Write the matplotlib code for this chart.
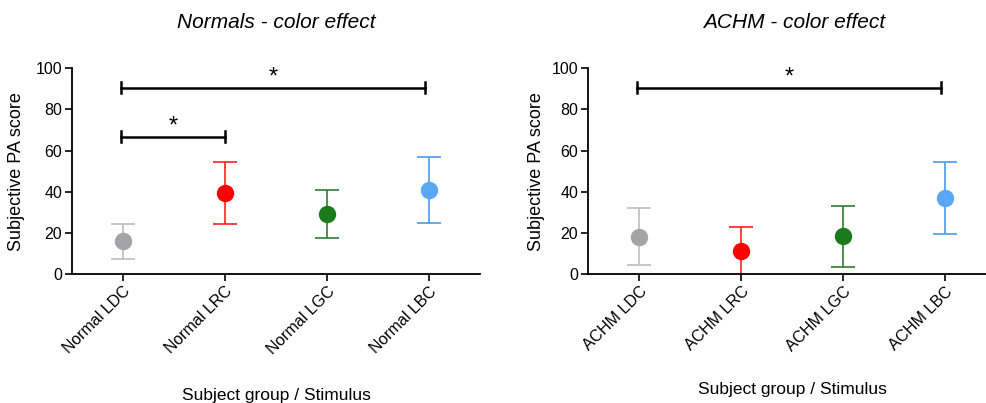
import matplotlib
matplotlib.use("Agg")
import matplotlib.pyplot as plt
from matplotlib.transforms import ScaledTranslation

plt.rcParams['font.family'] = ['Liberation Sans', 'DejaVu Sans']

# ---- data ----
normal_labels = ["Normal LDC", "Normal LRC", "Normal LGC", "Normal LBC"]
normal_means = [16.0, 39.3, 29.0, 41.0]
normal_err = [8.5, 15.0, 11.6, 16.0]

achm_labels = ["ACHM LDC", "ACHM LRC", "ACHM LGC", "ACHM LBC"]
achm_means = [18.1, 11.0, 18.3, 36.8]
achm_err = [13.8, 11.8, 15.0, 17.5]

marker_colors = ["#a3a3a8", "#ff0000", "#1b7a1b", "#5aa8f5"]
bar_colors = ["#bdbdbd", "#ff2020", "#2f7d2f", "#4a9ae8"]

# significance brackets: (start index, end index, height)
normal_sig = [(0, 3, 90.6), (0, 1, 66.8)]
achm_sig = [(0, 3, 90.6)]

titles = ["Normals - color effect", "ACHM - color effect"]
yticks = [0, 20, 40, 60, 80, 100]

fig = plt.figure(figsize=(9.87, 4.03), dpi=100)
ax1 = fig.add_axes([72 / 987, 1 - 274 / 403, 408 / 987, 205.7 / 403])
ax2 = fig.add_axes([588 / 987, 1 - 274 / 403, 408 / 987, 205.7 / 403])


def draw(ax, labels, means, errs, sig, title, xlab_y, ylab_x):
    for i, (m, e) in enumerate(zip(means, errs)):
        ax.errorbar(i, m, yerr=e, fmt='none', ecolor=bar_colors[i],
                    elinewidth=1.2, capsize=8.5, capthick=1.2, zorder=2)
        ax.plot(i, m, 'o', color=marker_colors[i], markersize=11.5, zorder=3)
    for a, b, h in sig:
        x0, x1 = a - 0.02, b - 0.04 if b - a > 1 else b
        ax.plot([x0, x1], [h, h], color='black', lw=1.8, zorder=4, clip_on=False)
        ax.plot([x0, x0], [h - 2.6, h + 2.6], color='black', lw=1.8, zorder=4, clip_on=False)
        ax.plot([x1, x1], [h - 2.6, h + 2.6], color='black', lw=1.8, zorder=4, clip_on=False)
        ax.text((x0 + x1) / 2, h - 0.5, '*', ha='center', va='bottom',
                fontsize=17, color='black')
    ax.set_xlim(-0.5, 3.5)
    ax.set_ylim(0, 100)
    ax.set_yticks(yticks)
    ax.set_xticks(range(len(labels)))
    ax.set_xticklabels(labels, rotation=45, ha='right', va='top',
                       rotation_mode='anchor', fontsize=11.5)
    off = ScaledTranslation(-4 / 100, 0, fig.dpi_scale_trans)
    for lab in ax.get_xticklabels():
        lab.set_transform(lab.get_transform() + off)
    for lab in ax.get_yticklabels():
        lab.set_fontsize(11.5)
    ax.spines['top'].set_visible(False)
    ax.spines['right'].set_visible(False)
    for s in ('left', 'bottom'):
        ax.spines[s].set_linewidth(1.3)
    ax.tick_params(axis='both', direction='out', length=5, width=1.2, pad=2)
    ax.set_title(title, fontsize=15, style='italic', pad=29)
    ax.set_ylabel("Subjective PA score", fontsize=13)
    ax.yaxis.set_label_coords(ylab_x, 0.5)
    ax.set_xlabel("Subject group / Stimulus", fontsize=12.5)
    ax.xaxis.set_label_coords(0.5, xlab_y)


draw(ax1, normal_labels, normal_means, normal_err, normal_sig, titles[0], -0.555, -0.115)
draw(ax2, achm_labels, achm_means, achm_err, achm_sig, titles[1], -0.525, -0.105)
ax1.title.set_position((0.5, 1.0))
ax2.title.set_position((0.505, 1.0))

fig.savefig("out.png", dpi=100)
